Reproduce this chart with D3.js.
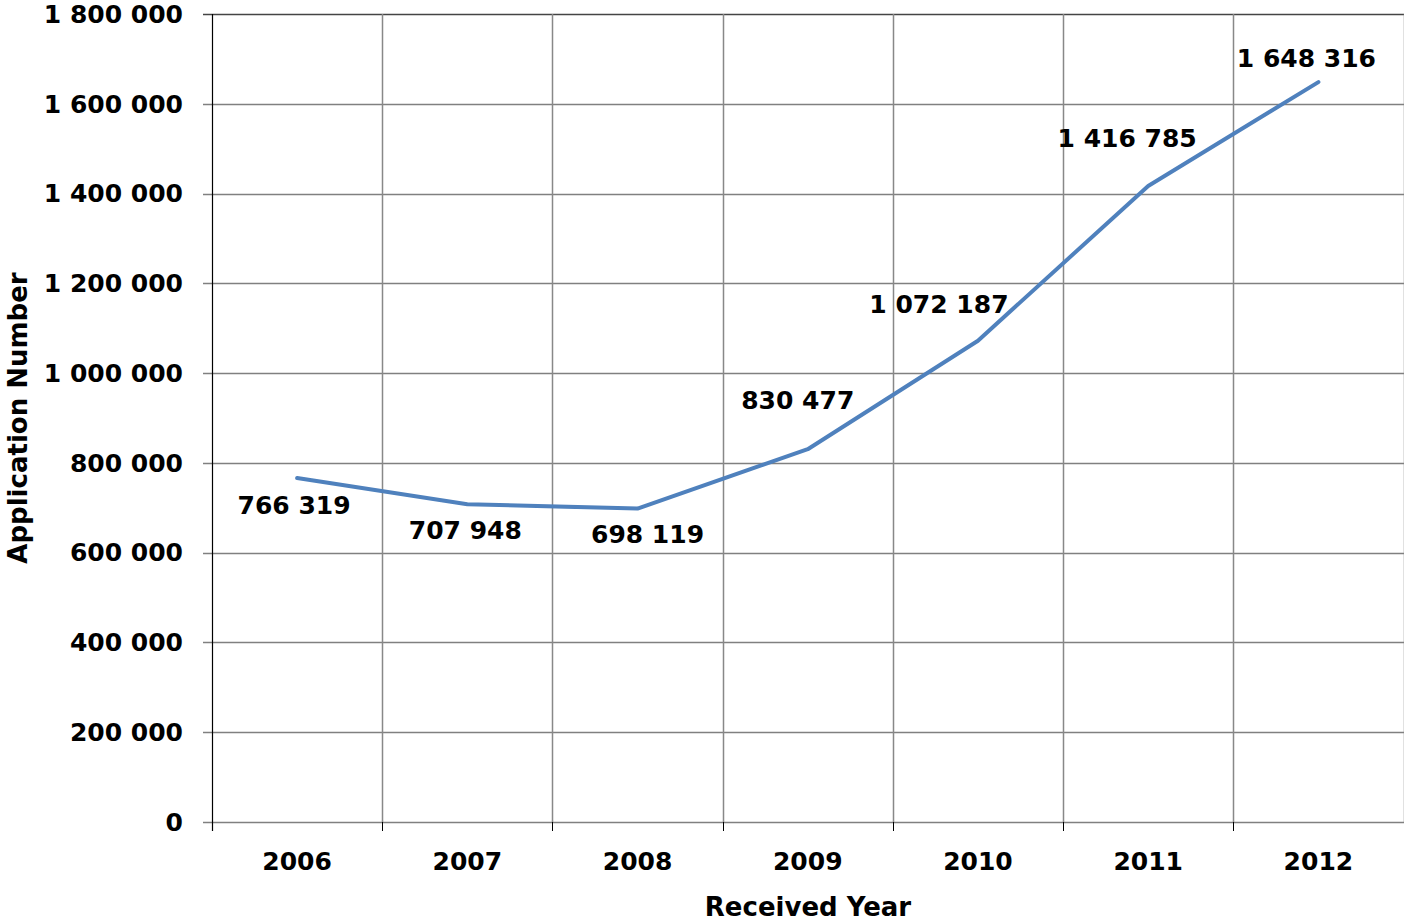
<!DOCTYPE html>
<html>
<head>
<meta charset="utf-8">
<script src="https://cdn.jsdelivr.net/npm/d3@7"></script>
<style>
  body { margin: 0; background: #fff; }
  text { font-family: "DejaVu Sans", Arial, sans-serif; font-weight: bold; fill: #000; }
</style>
</head>
<body>
<script>
"use strict";

// chart values
const years = ["2006", "2007", "2008", "2009", "2010", "2011", "2012"];
const applications = [766319, 707948, 698119, 830477, 1072187, 1416785, 1648316];
const yTicks = [0, 200000, 400000, 600000, 800000, 1000000, 1200000, 1400000, 1600000, 1800000];

// label placement (layout only): dx, dy relative to the point
const labelOffset = [
  [-3, 27], [-2, 26], [10, 26], [-10, -49], [-39, -36], [-21, -48], [-12, -24]
];

const width = 1404;
const height = 924;
const margin = { top: 14, right: 0, bottom: 102, left: 212 };

// spaced numbers: 1 800 000
const fmt = (v) => d3.format(",")(v).replace(/,/g, " ");

const svg = d3.select("body").append("svg")
  .attr("width", width)
  .attr("height", height);

const x = d3.scaleBand()
  .domain(years)
  .range([margin.left, width - margin.right - 0.5]);

const y = d3.scaleLinear()
  .domain([0, 1800000])
  .range([height - margin.bottom, margin.top]);

// horizontal grid
svg.append("g")
  .selectAll("line")
  .data(yTicks)
  .join("line")
  .attr("x1", margin.left - 9)
  .attr("x2", width - margin.right)
  .attr("y1", (d) => Math.round(y(d)) + 0.5)
  .attr("y2", (d) => Math.round(y(d)) + 0.5)
  .attr("stroke", (d) => (d === 1800000 ? "#444" : "#808080"))
  .attr("stroke-width", 1.5);

// vertical grid at category boundaries
const bounds = years.map((d) => x(d)).concat([x.range()[1]]);
svg.append("g")
  .selectAll("line")
  .data(bounds.slice(1))
  .join("line")
  .attr("x1", (d) => Math.round(d) + 0.5)
  .attr("x2", (d) => Math.round(d) + 0.5)
  .attr("y1", margin.top)
  .attr("y2", height - margin.bottom)
  .attr("stroke", "#888")
  .attr("stroke-width", 1.5);

// bottom tick marks
svg.append("g")
  .selectAll("line")
  .data(bounds)
  .join("line")
  .attr("x1", (d) => Math.round(d) + 0.5)
  .attr("x2", (d) => Math.round(d) + 0.5)
  .attr("y1", height - margin.bottom)
  .attr("y2", height - margin.bottom + 9)
  .attr("stroke", "#000")
  .attr("stroke-width", 1);

// y axis line
svg.append("line")
  .attr("x1", margin.left + 0.5)
  .attr("x2", margin.left + 0.5)
  .attr("y1", margin.top)
  .attr("y2", height - margin.bottom + 9)
  .attr("stroke", "#000")
  .attr("stroke-width", 1.2);

// y tick labels
svg.append("g")
  .selectAll("text")
  .data(yTicks)
  .join("text")
  .attr("x", 183)
  .attr("y", (d) => y(d))
  .attr("dy", "0.35em")
  .attr("text-anchor", "end")
  .attr("font-size", 25)
  .text(fmt);

// x tick labels
svg.append("g")
  .selectAll("text")
  .data(years)
  .join("text")
  .attr("x", (d) => x(d) + x.bandwidth() / 2)
  .attr("y", 861)
  .attr("dy", "0.35em")
  .attr("text-anchor", "middle")
  .attr("font-size", 25)
  .text((d) => d);

// axis titles
svg.append("text")
  .attr("x", 808)
  .attr("y", 916)
  .attr("text-anchor", "middle")
  .attr("font-size", 26)
  .text("Received Year");

svg.append("text")
  .attr("transform", "translate(27,418) rotate(-90)")
  .attr("text-anchor", "middle")
  .attr("font-size", 26)
  .text("Application Number");

// series line
const line = d3.line()
  .x((d, i) => x(years[i]) + x.bandwidth() / 2)
  .y((d) => y(d));

svg.append("path")
  .datum(applications)
  .attr("d", line)
  .attr("fill", "none")
  .attr("stroke", "#4F81BD")
  .attr("stroke-width", 4)
  .attr("stroke-linecap", "round")
  .attr("stroke-linejoin", "round");

// data labels
svg.append("g")
  .selectAll("text")
  .data(applications)
  .join("text")
  .attr("x", (d, i) => x(years[i]) + x.bandwidth() / 2 + labelOffset[i][0])
  .attr("y", (d, i) => y(d) + labelOffset[i][1])
  .attr("dy", "0.35em")
  .attr("text-anchor", "middle")
  .attr("font-size", 25)
  .text(fmt);
</script>
</body>
</html>
